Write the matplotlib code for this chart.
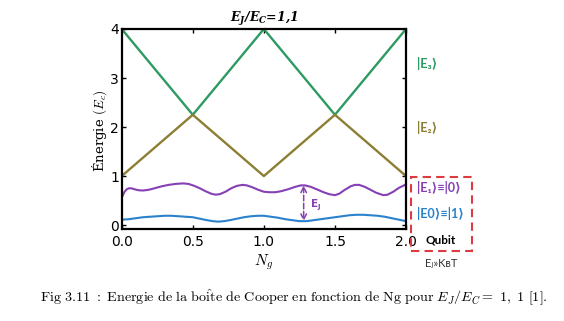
import matplotlib
matplotlib.use('Agg')
import matplotlib.pyplot as plt
from matplotlib.patches import Rectangle

plt.rcParams['mathtext.fontset'] = 'cm'

# values
ng_lin = [0.0, 0.5, 1.0, 1.5, 2.0]
e3 = [4.0, 2.25, 4.0, 2.25, 4.0]
e2 = [1.0, 2.25, 1.0, 2.25, 1.0]

ng_e1 = [0.00, 0.01, 0.02, 0.035, 0.05, 0.07, 0.09, 0.12, 0.15, 0.19, 0.23,
         0.28, 0.33, 0.38, 0.43, 0.47, 0.51, 0.55, 0.59, 0.63, 0.66, 0.69,
         0.73, 0.77, 0.81, 0.85, 0.88, 0.92, 0.96, 1.00, 1.04, 1.08, 1.12,
         1.17, 1.22, 1.26, 1.29, 1.33, 1.38, 1.42, 1.46, 1.50, 1.53, 1.57,
         1.61, 1.64, 1.67, 1.71, 1.75, 1.79, 1.84, 1.87, 1.91, 1.95, 2.00]
e1 = [0.56, 0.62, 0.68, 0.73, 0.75, 0.75, 0.73, 0.71, 0.705, 0.72, 0.75,
      0.79, 0.82, 0.84, 0.85, 0.84, 0.80, 0.75, 0.69, 0.64, 0.62, 0.63,
      0.68, 0.75, 0.80, 0.82, 0.81, 0.77, 0.72, 0.68, 0.67, 0.67, 0.69,
      0.73, 0.78, 0.81, 0.81, 0.78, 0.72, 0.67, 0.63, 0.61, 0.64, 0.72,
      0.79, 0.82, 0.82, 0.78, 0.72, 0.66, 0.61, 0.62, 0.68, 0.76, 0.83]

ng_e0 = [0.00, 0.05, 0.10, 0.15, 0.20, 0.25, 0.30, 0.35, 0.40, 0.45, 0.50,
         0.55, 0.60, 0.64, 0.68, 0.72, 0.76, 0.81, 0.86, 0.91, 0.96, 1.00,
         1.05, 1.10, 1.15, 1.20, 1.25, 1.30, 1.35, 1.40, 1.45, 1.50, 1.55,
         1.60, 1.65, 1.70, 1.75, 1.80, 1.85, 1.90, 1.95, 2.00]
e0 = [0.11, 0.12, 0.14, 0.16, 0.17, 0.18, 0.19, 0.19, 0.18, 0.17, 0.16,
      0.13, 0.10, 0.08, 0.07, 0.08, 0.10, 0.13, 0.16, 0.18, 0.19, 0.19,
      0.17, 0.15, 0.12, 0.10, 0.08, 0.08, 0.10, 0.12, 0.14, 0.16, 0.18,
      0.20, 0.21, 0.21, 0.20, 0.19, 0.17, 0.14, 0.11, 0.08]

xticks = [0.0, 0.5, 1.0, 1.5, 2.0]
yticks = [0, 1, 2, 3, 4]

c_green = '#2e9a63'
c_olive = '#8c7f34'
c_purple = '#8440b4'
c_blue = '#2a82cc'
c_red = '#dc3b42'

fig = plt.figure(figsize=(5.64, 3.21), dpi=100)
ax = fig.add_axes([0.2158, 0.2866, 0.5041, 0.6231])

ax.plot(ng_lin, e3, color=c_green, lw=1.7)
ax.plot(ng_lin, e2, color=c_olive, lw=1.7)
ax.plot(ng_e1, e1, color=c_purple, lw=1.5)
ax.plot(ng_e0, e0, color=c_blue, lw=1.5)

# E_J arrow
ax.annotate('', xy=(1.28, 0.08), xytext=(1.28, 0.81),
            arrowprops=dict(arrowstyle='<->', color=c_purple, lw=1.1,
                            linestyle='--', shrinkA=0, shrinkB=0))
ax.text(1.33, 0.42, 'E', color=c_purple, fontsize=7.5,
        fontweight='bold', va='center')
ax.text(1.378, 0.36, 'J', color=c_purple, fontsize=5,
        fontweight='bold', va='center')

ax.set_xlim(0, 2)
ax.set_ylim(-0.08, 4)
ax.set_xticks(xticks)
ax.set_xticklabels(['0.0', '0.5', '1.0', '1.5', '2.0'])
ax.set_yticks(yticks)
ax.tick_params(direction='in', top=True, right=True, length=3, width=1,
               labelsize=10)
ax.tick_params(axis='x', pad=4)
ax.tick_params(axis='y', pad=2)
for s in ax.spines.values():
    s.set_linewidth(1.6)

ax.set_title(r'$\mathbfit{E_J/E_C}$=1,1', fontsize=9, fontweight='bold',
             fontstyle='italic', family='DejaVu Serif', pad=5,
             math_fontfamily='dejavuserif')
ax.set_xlabel(r'$N_g$', fontsize=11, labelpad=3)
ax.set_ylabel(r'Énergie $(E_c)$', fontsize=9.5, family='DejaVu Serif')
ax.yaxis.set_label_coords(-0.045, 0.49)

# right-hand labels
side = ['Lato', 'DejaVu Sans']
fig.text(417 / 564, 1 - 63 / 321, '|E₃⟩', color=c_green, fontsize=9,
         fontweight='bold', va='center', family=side)
fig.text(417 / 564, 1 - 128 / 321, '|E₂⟩', color=c_olive, fontsize=9,
         fontweight='bold', va='center', family=side)
fig.text(417 / 564, 1 - 188 / 321, '|E₁⟩≡|0⟩', color=c_purple, fontsize=9,
         fontweight='bold', va='center', family=side)
fig.text(417 / 564, 1 - 214 / 321, '|E0⟩≡|1⟩', color=c_blue, fontsize=9,
         fontweight='bold', va='center', family=side)
fig.text(441 / 564, 1 - 240 / 321, 'Qubit', color='black', fontsize=8.5,
         fontweight='bold', ha='center', va='center', family=side)
fig.text(441 / 564, 1 - 263 / 321, 'E\u2c7c»K\u0299T',
         color='#333333', fontsize=8, ha='center', va='center', family=side)

box = Rectangle((410.7 / 564, 1 - 250.7 / 321), 61 / 564, 74 / 321,
                transform=fig.transFigure, fill=False, edgecolor=c_red,
                lw=1.5, linestyle=(0, (4, 2.5)))
fig.patches.append(box)

caption = (r'$\mathrm{Fig\ 3.11\ :\ Energie\ de\ la\ bo\hat{i}te\ de\ Cooper\ '
           r'en\ fonction\ de\ Ng\ pour\ }E_J/E_C\mathrm{=}\ 1,\ 1\ \mathrm{[1].}$')
fig.text(294 / 564, 1 - 298 / 321, caption, ha='center', va='center',
         fontsize=10.2)

fig.savefig('out.png', dpi=100)
